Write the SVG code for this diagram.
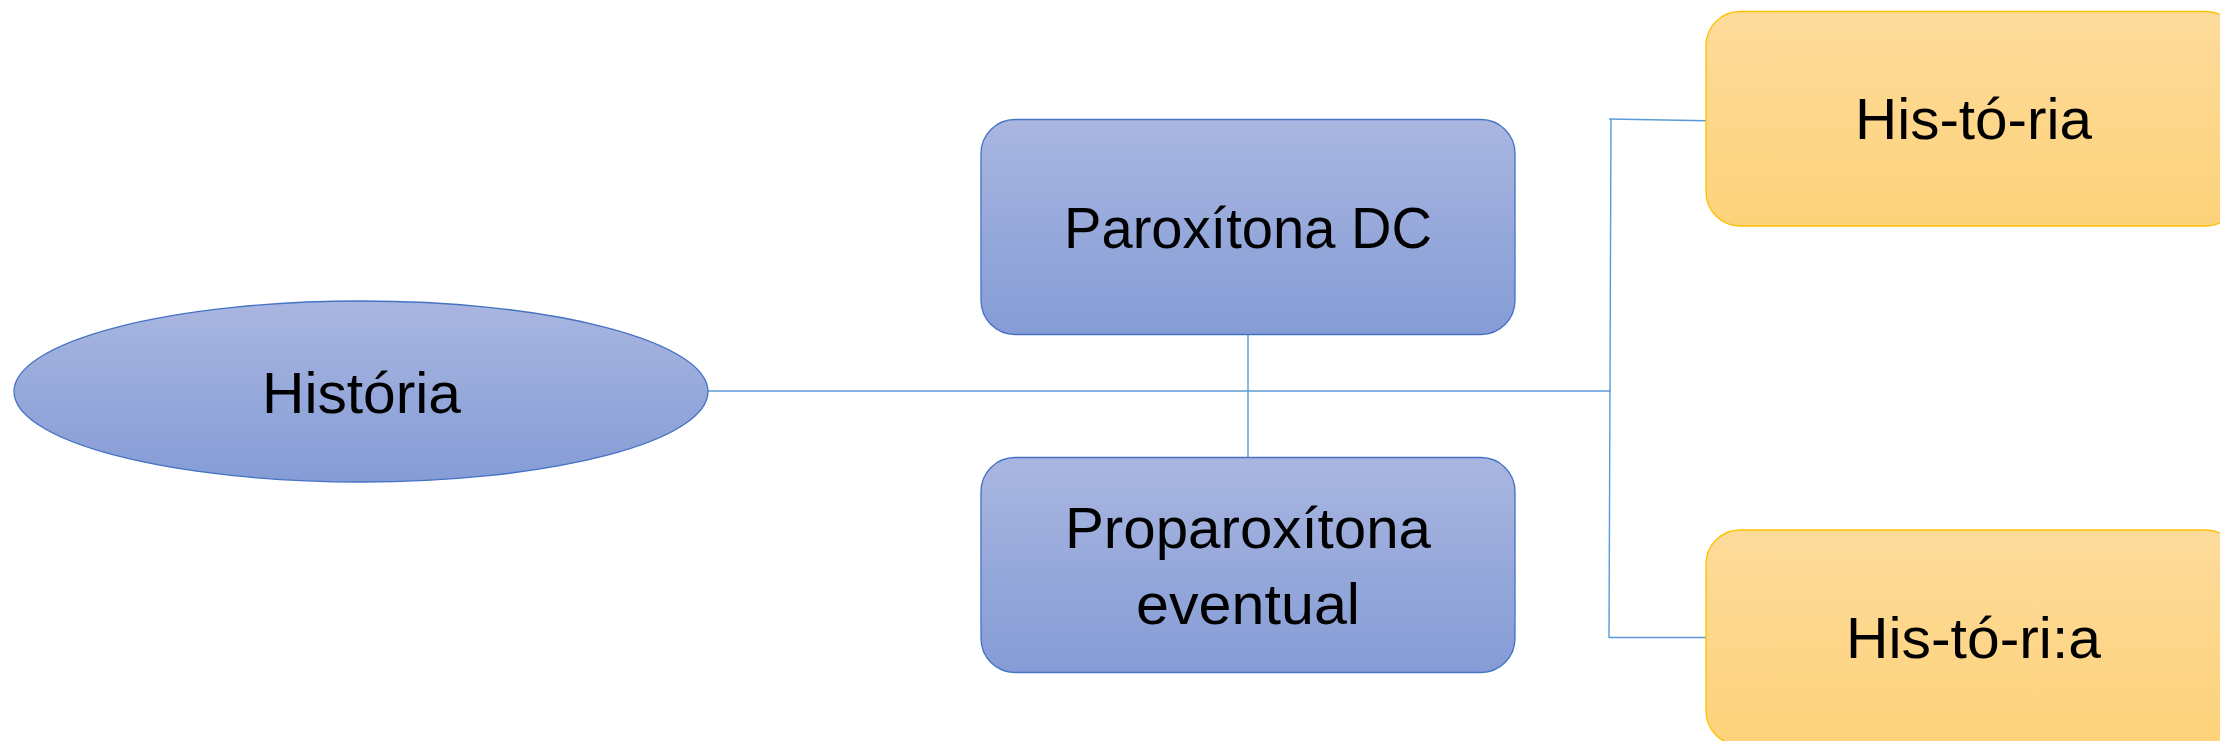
<svg xmlns="http://www.w3.org/2000/svg" width="2220" height="741" viewBox="0 0 2220 741">
<defs>
<linearGradient id="gBlue" x1="0" y1="0" x2="0" y2="1">
<stop offset="0" stop-color="#A9B6E0"/>
<stop offset="1" stop-color="#859CD6"/>
</linearGradient>
<linearGradient id="gOrange" x1="0" y1="0" x2="0" y2="1">
<stop offset="0" stop-color="#FDDB9B"/>
<stop offset="1" stop-color="#FDD27A"/>
</linearGradient>
<style>
.blue{fill:url(#gBlue);stroke:#4472C4;stroke-width:1.3}
.orange{fill:url(#gOrange);stroke:#FFC000;stroke-width:1.3}
.lbl{font-family:"Liberation Sans",Arial,sans-serif;font-size:57px;fill:#000;text-anchor:middle}
.conn{stroke:#5B9BD5;stroke-width:1.4;fill:none}
</style>
</defs>
<g id="connectors">
<line class="conn" x1="708" y1="391" x2="1611" y2="391"/>
<line class="conn" x1="1248" y1="335" x2="1248" y2="457"/>
<line class="conn" x1="1611" y1="119" x2="1609" y2="638"/>
<line class="conn" x1="1609" y1="119" x2="1706" y2="120.7"/>
<line class="conn" x1="1609" y1="637.5" x2="1706" y2="637.5"/>
</g>
<g id="historia">
<ellipse class="blue" cx="361" cy="391.5" rx="347" ry="90.5"/>
<text class="lbl" x="361.5" y="413" textLength="199" lengthAdjust="spacingAndGlyphs">História</text>
</g>
<g id="paroxitona">
<rect class="blue" x="981" y="119.5" width="534" height="215" rx="34" ry="34"/>
<text class="lbl" x="1248" y="248" textLength="368" lengthAdjust="spacingAndGlyphs">Paroxítona DC</text>
</g>
<g id="proparoxitona">
<rect class="blue" x="981" y="457.5" width="534" height="215" rx="34" ry="34"/>
<text class="lbl" x="1248" y="548" textLength="366" lengthAdjust="spacingAndGlyphs">Proparoxítona</text>
<text class="lbl" x="1248" y="624" textLength="224" lengthAdjust="spacingAndGlyphs">eventual</text>
</g>
<g id="his-to-ria">
<rect class="orange" x="1706" y="11.5" width="534" height="214.5" rx="34" ry="34"/>
<text class="lbl" x="1973.5" y="139" textLength="237" lengthAdjust="spacingAndGlyphs">His-tó-ria</text>
</g>
<g id="his-to-ri-a">
<rect class="orange" x="1706" y="530" width="534" height="215" rx="34" ry="34"/>
<text class="lbl" x="1973.5" y="658" textLength="255" lengthAdjust="spacingAndGlyphs">His-tó-ri:a</text>
</g>
</svg>
